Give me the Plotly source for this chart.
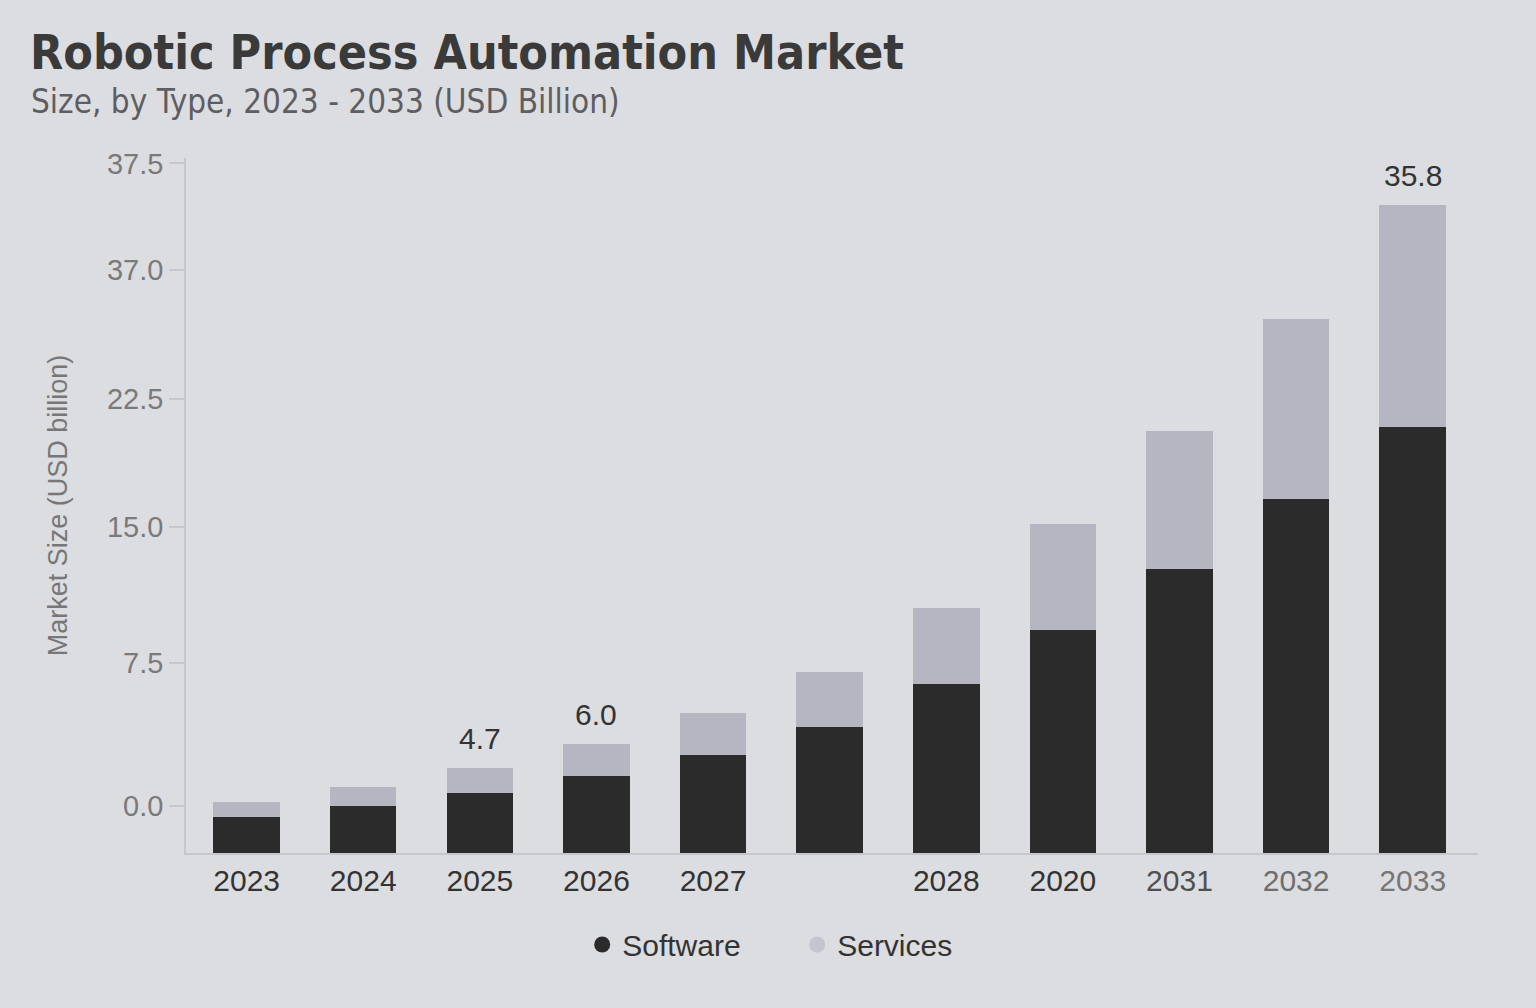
import plotly.graph_objects as go

# data
years = ["2023", "2024", "2025", "2026", "2027", " ", "2028", "2020", "2031", "2032", "2033"]
software = [2.0, 2.6, 3.3, 4.25, 5.4, 6.95, 9.35, 12.3, 15.7, 19.55, 23.55]
services = [0.8, 1.05, 1.4, 1.75, 2.35, 3.05, 4.2, 5.9, 7.6, 9.95, 12.25]
total_labels = ["", "", "4.7", "6.0", "", "", "", "", "", "", "35.8"]

# y tick positions / labels as printed on the chart
y_tickvals = [2.6, 10.5, 18.0, 25.1, 32.2, 38.1]
y_ticktext = ["0.0", "7.5", "15.0", "22.5", "37.0", "37.5"]
x_label_colors = ["#333333"] * 8 + ["#505050", "#6e6e6e", "#767676"]

BG = "#dcdde1"
DARK = "#2b2b2b"
LIGHT = "#b5b6c1"
COND = "DejaVu Sans Condensed, Roboto, sans-serif"

fig = go.Figure()

fig.add_trace(go.Bar(x=years, y=software, marker_color=DARK,
                     marker_line_width=0, showlegend=False, name="Software"))
fig.add_trace(go.Bar(x=years, y=services, marker_color=LIGHT,
                     marker_line_width=0, showlegend=False, name="Services"))

# circle markers for the legend
fig.add_trace(go.Scatter(x=[None], y=[None], mode="markers", name="Software",
                         marker=dict(symbol="circle", size=21, color=DARK)))
fig.add_trace(go.Scatter(x=[None], y=[None], mode="markers", name="Services",
                         marker=dict(symbol="circle", size=21, color="#c4c5cf")))

# total labels above some bars (category axis -> use category index)
for i, (sw, sv, lab) in enumerate(zip(software, services, total_labels)):
    if lab:
        fig.add_annotation(x=i, y=sw + sv, text=lab, showarrow=False,
                           yanchor="bottom", yshift=11,
                           font=dict(size=30, color="#333333", family="Liberation Sans"))

fig.update_layout(
    barmode="stack",
    bargap=0.43,
    width=1536, height=1008,
    paper_bgcolor=BG, plot_bgcolor=BG,
    margin=dict(l=186, r=58, t=158, b=155),
    font=dict(family="Liberation Sans", color="#333333"),
    legend=dict(orientation="h", xref="container", yref="container",
                x=0.519, xanchor="center", y=0.063, yanchor="middle",
                font=dict(size=30, color="#333333"), itemsizing="trace",
                traceorder="normal",
                bgcolor="rgba(0,0,0,0)", entrywidth=170),
)

fig.update_xaxes(
    type="category",
    range=[-0.52, 10.56],
    tickvals=years,
    ticktext=[f"<span style='color:{c}'>{y}</span>" for y, c in zip(years, x_label_colors)],
    tickfont=dict(size=30, family="Liberation Sans"),
    showline=True, linecolor="#c6c7cc", linewidth=1.5,
    ticks="", showgrid=False, zeroline=False,
)

fig.update_yaxes(
    range=[0, 38.4],
    tickvals=y_tickvals, ticktext=y_ticktext,
    tickfont=dict(size=29, color="#7a7a7a", family="Liberation Sans"),
    ticks="outside", ticklen=15, tickcolor="#c6c7cc", tickwidth=1.5,
    showline=True, linecolor="#c6c7cc", linewidth=1.5,
    showgrid=False, zeroline=False,
    title=dict(text="Market Size (USD billion)", standoff=32,
               font=dict(size=27, color="#777777", family="Liberation Sans")),
)

fig.add_annotation(text="<b>Robotic Process Automation Market</b>",
                   xref="paper", yref="paper", x=-0.1225, y=1.1525,
                   xanchor="left", yanchor="middle", showarrow=False,
                   font=dict(size=48, color="#3a3a3a", family=COND))
fig.add_annotation(text="Size, by Type, 2023 - 2033 (USD Billion)",
                   xref="paper", yref="paper", x=-0.1215, y=1.082,
                   xanchor="left", yanchor="middle", showarrow=False,
                   font=dict(size=33, color="#5e5e62", family=COND))

fig.write_html("out.html", config={"displayModeBar": False},
               post_script="document.body.style.margin='0';")
